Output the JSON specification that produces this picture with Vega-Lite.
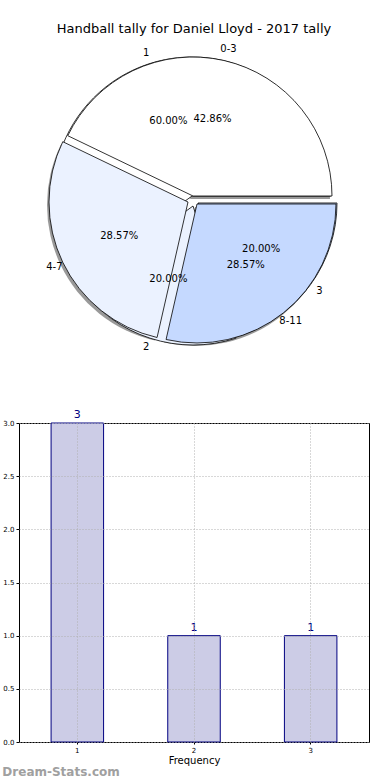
{
  "$schema": "https://vega.github.io/schema/vega-lite/v6.json",
  "padding": {"left": 2, "top": 22, "right": 0, "bottom": 0},
  "background": "white",
  "config": {"font": "DejaVu Sans", "view": {"stroke": null}},
  "title": {"text": "Dream-Stats.com", "orient": "bottom", "anchor": "start", "fontSize": 12, "fontWeight": "bold", "color": "#a0a0a0", "offset": 1},
  "spacing": 73,
  "bounds": "flush",
  "vconcat": [
    {
      "width": 350,
      "height": 300,
      "title": {"text": "Handball tally for Daniel Lloyd - 2017 tally", "fontSize": 13, "fontWeight": "normal", "color": "black", "offset": 8, "anchor": "middle"},
      "data": {"values": [
        {"pie": "A", "label": "1", "value": 3},
        {"pie": "A", "label": "2", "value": 1},
        {"pie": "A", "label": "3", "value": 1},
        {"pie": "B", "label": "0-3", "value": 3},
        {"pie": "B", "label": "4-7", "value": 2},
        {"pie": "B", "label": "8-11", "value": 2}
      ]},
      "transform": [
        {"stack": "value", "groupby": ["pie"], "sort": [{"field": "label", "order": "ascending"}], "offset": "normalize", "as": ["t0", "t1"]},
        {"calculate": "(datum.t0 + datum.t1) / 2", "as": "tm"},
        {"calculate": "datum.t1 - datum.t0", "as": "share"}
      ],
      "encoding": {
        "theta": {"field": "t0", "type": "quantitative", "scale": {"domain": [0, 1], "range": [1.5708, -4.7124]}},
        "theta2": {"field": "t1"}
      },
      "layer": [
        {"transform": [{"filter": "datum.label === '0-3'"}], "mark": {"type": "arc", "outerRadius": 139, "fill": "#555555", "opacity": 0.6, "xOffset": -3, "yOffset": -1}},
        {"transform": [{"filter": "datum.label === '4-7'"}], "mark": {"type": "arc", "outerRadius": 139, "fill": "#555555", "opacity": 0.6, "xOffset": -8, "yOffset": 5}},
        {"transform": [{"filter": "datum.label === '8-11'"}], "mark": {"type": "arc", "outerRadius": 139, "fill": "#555555", "opacity": 0.6, "xOffset": 1, "yOffset": 7}},
        {"transform": [{"filter": "datum.label === '1'"}], "mark": {"type": "arc", "outerRadius": 139, "stroke": "black", "strokeWidth": 0.8, "xOffset": -2, "yOffset": -4},
         "encoding": {"color": {"field": "label", "type": "nominal", "legend": null, "scale": {"domain": ["1", "2", "3", "0-3", "4-7", "8-11"], "range": ["#ffffff", "#ebf2ff", "#c5d9ff", "#ffffff", "#ebf2ff", "#c5d9ff"]}}}},
        {"transform": [{"filter": "datum.label === '2'"}], "mark": {"type": "arc", "outerRadius": 139, "stroke": "black", "strokeWidth": 0.8, "xOffset": -1, "yOffset": 6},
         "encoding": {"color": {"field": "label", "type": "nominal", "legend": null}}},
        {"transform": [{"filter": "datum.label === '3'"}], "mark": {"type": "arc", "outerRadius": 139, "stroke": "black", "strokeWidth": 0.8, "xOffset": 4, "yOffset": 3},
         "encoding": {"color": {"field": "label", "type": "nominal", "legend": null}}},
        {"transform": [{"filter": "datum.label === '0-3'"}], "mark": {"type": "arc", "outerRadius": 139, "stroke": "black", "strokeWidth": 0.8, "xOffset": -1, "yOffset": -4},
         "encoding": {"color": {"field": "label", "type": "nominal", "legend": null}}},
        {"transform": [{"filter": "datum.label === '4-7'"}], "mark": {"type": "arc", "outerRadius": 139, "stroke": "black", "strokeWidth": 0.8, "xOffset": -6, "yOffset": 2},
         "encoding": {"color": {"field": "label", "type": "nominal", "legend": null}}},
        {"transform": [{"filter": "datum.label === '8-11'"}], "mark": {"type": "arc", "outerRadius": 139, "stroke": "black", "strokeWidth": 0.8, "xOffset": 3, "yOffset": 4},
         "encoding": {"color": {"field": "label", "type": "nominal", "legend": null}}},
        {"mark": {"type": "text", "radius": 155, "fontSize": 10, "color": "black"},
         "encoding": {"theta": {"field": "tm", "type": "quantitative"}, "theta2": null, "text": {"field": "label"}}},
        {"mark": {"type": "text", "radius": 83, "fontSize": 10, "color": "black"},
         "encoding": {"theta": {"field": "tm", "type": "quantitative"}, "theta2": null, "text": {"field": "share", "format": ".2%"}}}
      ]
    },
    {
      "width": 350,
      "height": 319,
      "view": {"stroke": "black", "strokeWidth": 1},
      "data": {"values": [
        {"bin": "1", "count": 3},
        {"bin": "2", "count": 1},
        {"bin": "3", "count": 1}
      ]},
      "encoding": {
        "x": {"field": "bin", "type": "ordinal", "scale": {"paddingInner": 0.55, "paddingOuter": 0.275},
              "axis": {"title": "Frequency", "titleFontSize": 10, "titleFontWeight": "normal", "titleColor": "black", "titlePadding": 2, "labelAngle": 0, "labelFontSize": 7, "labelColor": "black", "labelPadding": 2, "tickSize": 2, "tickColor": "black", "domain": false, "grid": true, "gridDash": [1, 2], "gridColor": "#b0b0b0", "bandPosition": 0.5, "zindex": 1}},
        "y": {"field": "count", "type": "quantitative", "scale": {"domain": [0, 3]},
              "axis": {"title": null, "values": [0, 0.5, 1, 1.5, 2, 2.5, 3], "format": ".1f", "labelFontSize": 7, "labelColor": "black", "labelPadding": 2, "tickSize": 3, "tickColor": "black", "domain": false, "grid": true, "gridDash": [1, 2], "gridColor": "#b0b0b0", "zindex": 1, "minExtent": 15, "maxExtent": 15}}
      },
      "layer": [
        {"mark": {"type": "bar", "fill": "#ccccE6", "stroke": "#000080", "strokeWidth": 1}},
        {"mark": {"type": "text", "baseline": "bottom", "dy": -3, "fontSize": 11, "color": "#000080"},
         "encoding": {"text": {"field": "count"}}}
      ]
    }
  ]
}
